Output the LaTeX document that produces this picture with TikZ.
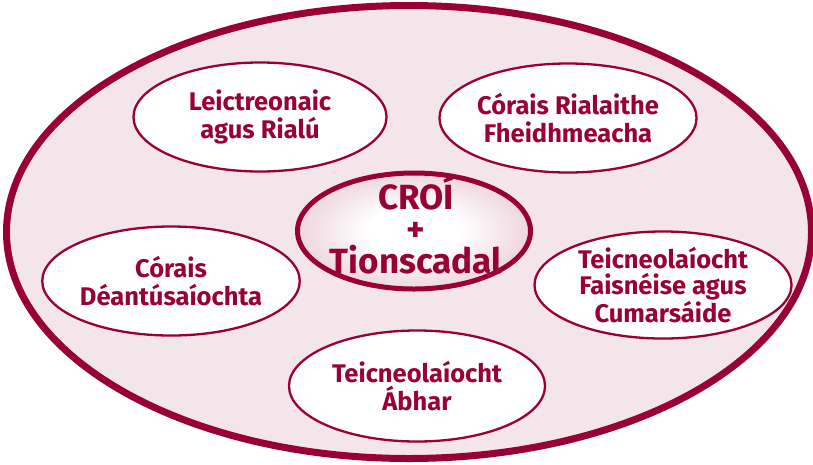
\documentclass[tikz,border=0pt]{standalone}
\usepackage{fontspec}
\setmainfont{Fira Sans}[BoldFont={Fira Sans Bold}]
\usetikzlibrary{shapes.geometric}
\definecolor{crim}{HTML}{990033}
\definecolor{bgpink}{HTML}{F4E5EA}
\definecolor{midpink}{HTML}{D192A7}
\pgfdeclareradialshading{croishade}{\pgfpointorigin}{color(0bp)=(white); color(10bp)=(white); color(50bp)=(midpink)}
\tikzset{
  frame/.style={ellipse, draw=crim, fill=bgpink, line width=7pt, inner sep=0pt},
  topic/.style={ellipse, draw=crim, fill=white, line width=2.3pt, inner sep=0pt,
    minimum width=253pt, minimum height=109pt, align=center, text=crim,
    font=\bfseries\fontsize{25.5}{28}\selectfont},
  core/.style={ellipse, draw=crim, line width=5pt, inner sep=0pt, shade, shading=croishade,
    minimum width=233pt, minimum height=116pt},
  coretext/.style={align=center, text=crim, inner sep=0pt,
    font=\bfseries\fontsize{35}{32}\selectfont}
}
\begin{document}
\begin{tikzpicture}[x=1pt,y=-1pt]
\useasboundingbox (0,0) rectangle (813,464);
\clip (0,0) rectangle (813,464);
\node[frame, minimum width=805pt, minimum height=453pt] (outer) at (409,232) {};
\node[topic] (lei) at (260,117) {Leictreonaic\\agus Rialú};
\node[topic] (cor) at (568,118) {Córais Rialaithe\\Fheidhmeacha};
\node[topic] (dea) at (171,281) {Córais\\Déantúsaíochta};
\node[topic, minimum width=257pt, minimum height=106pt, font=\bfseries\fontsize{25.5}{26}\selectfont] (ict) at (663,285) {Teicneolaíocht\\Faisnéise agus\\Cumarsáide};
\node[topic, minimum width=256pt, minimum height=111pt] (abh) at (417,386) {Teicneolaíocht\\Ábhar};
\node[core] (croi) at (414,231) {};
\node[coretext] (croitxt) at (416,225) {CROÍ\\+\\Tionscadal};
\end{tikzpicture}
\end{document}
